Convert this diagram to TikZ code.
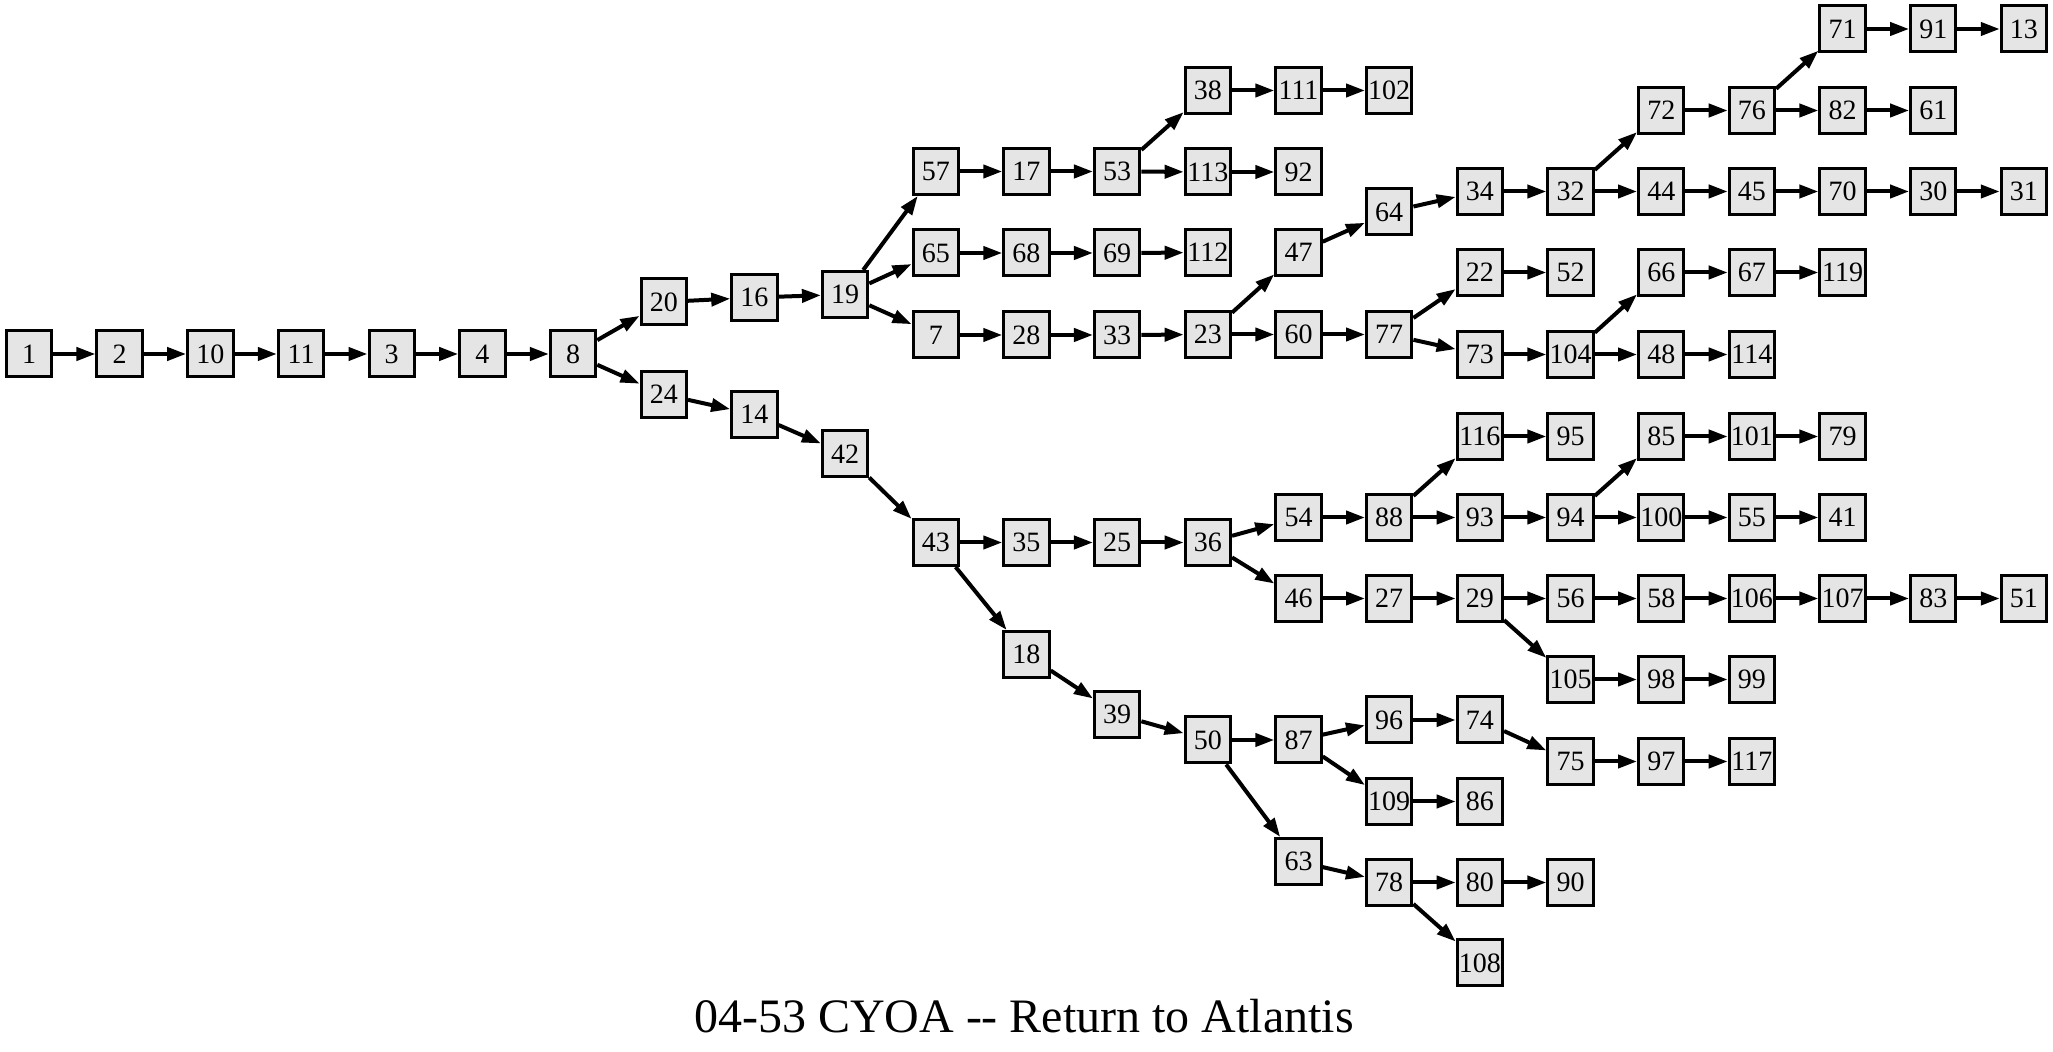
\documentclass[tikz,border=0pt]{standalone}
\usepackage{fontspec}
\setmainfont{Liberation Serif}
\usetikzlibrary{arrows.meta}
\definecolor{nodefill}{HTML}{E5E5E5}
\tikzset{
  nb/.style={draw=black, fill=nodefill, line width=1.5pt, rectangle, inner sep=0pt,
    minimum width=22.7pt, minimum height=23pt, font=\fontsize{14pt}{16pt}\selectfont},
  ed/.style={draw=black, line width=2pt, -{Triangle[length=9.5pt,width=6.5pt]}},
  ttl/.style={font=\fontsize{24pt}{28pt}\selectfont, anchor=base, inner sep=0pt}
}
\newcommand\mynode[3]{\node[nb] (n#1) at ({29+90.68*#2},#3) {#1};}
\begin{document}
\begin{tikzpicture}[x=0.5pt,y=-0.5pt]
\useasboundingbox (0,0) rectangle (2053,1052);
% column 0-6
\mynode{1}{0}{354}
\mynode{2}{1}{354}
\mynode{10}{2}{354}
\mynode{11}{3}{354}
\mynode{3}{4}{354}
\mynode{4}{5}{354}
\mynode{8}{6}{354}
% 7
\mynode{20}{7}{302}
\mynode{24}{7}{394.5}
% 8
\mynode{16}{8}{297.5}
\mynode{14}{8}{414.5}
% 9
\mynode{19}{9}{294.5}
\mynode{42}{9}{454}
% 10
\mynode{57}{10}{171.5}
\mynode{65}{10}{253}
\mynode{7}{10}{335}
\mynode{43}{10}{542.5}
% 11
\mynode{17}{11}{171.5}
\mynode{68}{11}{253}
\mynode{28}{11}{335}
\mynode{35}{11}{542.5}
\mynode{18}{11}{654.5}
% 12
\mynode{53}{12}{171.5}
\mynode{69}{12}{253}
\mynode{33}{12}{335}
\mynode{25}{12}{542.5}
\mynode{39}{12}{714.5}
% 13
\mynode{38}{13}{90.5}
\mynode{113}{13}{172}
\mynode{112}{13}{252.5}
\mynode{23}{13}{334.5}
\mynode{36}{13}{542.5}
\mynode{50}{13}{740}
% 14
\mynode{111}{14}{90.5}
\mynode{92}{14}{172}
\mynode{47}{14}{252.5}
\mynode{60}{14}{334.5}
\mynode{54}{14}{517.5}
\mynode{46}{14}{598.5}
\mynode{87}{14}{740}
\mynode{63}{14}{861.5}
% 15
\mynode{102}{15}{90.5}
\mynode{64}{15}{212}
\mynode{77}{15}{334.5}
\mynode{88}{15}{517.5}
\mynode{27}{15}{598.5}
\mynode{96}{15}{720}
\mynode{109}{15}{801.5}
\mynode{78}{15}{882.5}
% 16
\mynode{34}{16}{191.5}
\mynode{22}{16}{272.5}
\mynode{73}{16}{354.5}
\mynode{116}{16}{436.5}
\mynode{93}{16}{517.5}
\mynode{29}{16}{598.5}
\mynode{74}{16}{720}
\mynode{86}{16}{801.5}
\mynode{80}{16}{882.5}
\mynode{108}{16}{963}
% 17
\mynode{32}{17}{191.5}
\mynode{52}{17}{272.5}
\mynode{104}{17}{354.5}
\mynode{95}{17}{436.5}
\mynode{94}{17}{517.5}
\mynode{56}{17}{598.5}
\mynode{105}{17}{679.5}
\mynode{75}{17}{761.5}
\mynode{90}{17}{882.5}
% 18
\mynode{72}{18}{110.5}
\mynode{44}{18}{191.5}
\mynode{66}{18}{272.5}
\mynode{48}{18}{354.5}
\mynode{85}{18}{436.5}
\mynode{100}{18}{517.5}
\mynode{58}{18}{598.5}
\mynode{98}{18}{679.5}
\mynode{97}{18}{761.5}
% 19
\mynode{76}{19}{110.5}
\mynode{45}{19}{191.5}
\mynode{67}{19}{272.5}
\mynode{114}{19}{354.5}
\mynode{101}{19}{436.5}
\mynode{55}{19}{517.5}
\mynode{106}{19}{598.5}
\mynode{99}{19}{679.5}
\mynode{117}{19}{761.5}
% 20
\mynode{71}{20}{29}
\mynode{82}{20}{110.5}
\mynode{70}{20}{191.5}
\mynode{119}{20}{272.5}
\mynode{79}{20}{436.5}
\mynode{41}{20}{517.5}
\mynode{107}{20}{598.5}
% 21
\mynode{91}{21}{29}
\mynode{61}{21}{110.5}
\mynode{30}{21}{191.5}
\mynode{83}{21}{598.5}
% 22
\mynode{13}{22}{29}
\mynode{31}{22}{191.5}
\mynode{51}{22}{598.5}
% edges
\foreach \a/\b in {1/2,2/10,10/11,11/3,3/4,4/8,8/20,8/24,20/16,16/19,19/57,19/65,19/7,
  57/17,17/53,53/38,53/113,38/111,111/102,113/92,65/68,68/69,69/112,7/28,28/33,33/23,
  23/47,23/60,47/64,64/34,34/32,32/72,32/44,72/76,76/71,76/82,71/91,91/13,82/61,44/45,
  45/70,70/30,30/31,60/77,77/22,77/73,22/52,73/104,104/66,104/48,66/67,67/119,48/114,
  24/14,14/42,42/43,43/35,43/18,35/25,25/36,36/54,36/46,54/88,88/116,88/93,116/95,
  93/94,94/85,94/100,85/101,101/79,100/55,55/41,46/27,27/29,29/56,29/105,56/58,58/106,
  106/107,107/83,83/51,105/98,98/99,18/39,39/50,50/87,50/63,87/96,87/109,96/74,74/75,
  75/97,97/117,109/86,63/78,78/80,78/108,80/90}
  \draw[ed] (n\a) -- (n\b);
\node[ttl] (title) at (1024,1033) {04-53 CYOA \mbox{-}\mbox{-} Return to Atlantis};
\end{tikzpicture}
\end{document}
